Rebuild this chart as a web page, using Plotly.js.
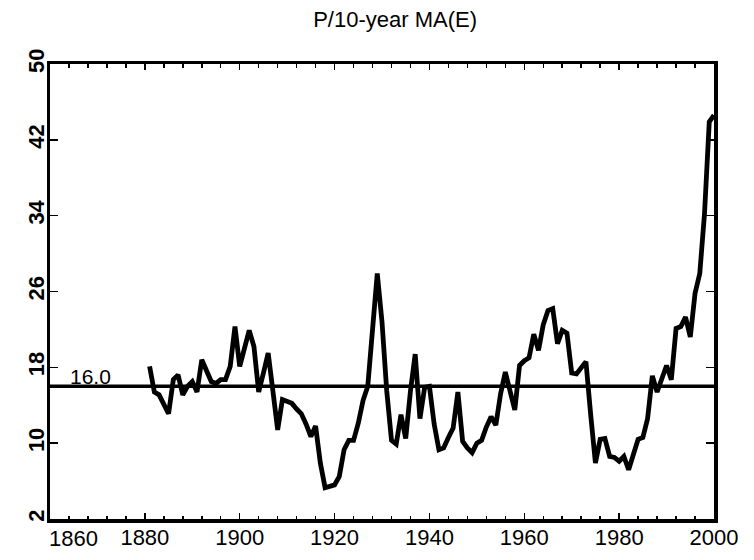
<!DOCTYPE html>
<html>
<head>
<meta charset="utf-8">
<script src="https://cdn.plot.ly/plotly-3.0.1.min.js"></script>
<style>html,body{margin:0;padding:0;background:#fff;}#chart{width:754px;height:560px;}</style>
</head>
<body>
<div id="chart"></div>
<script>
// Data
const startYear = 1881;
const peValues = [
  18.1, 15.4, 15.1, 14.2, 13.1, 16.7, 17.2, 15.1, 16.0, 16.5,   // 1881-1890
  15.4, 18.8, 17.7, 16.5, 16.3, 16.7, 16.7, 18.1, 22.3, 18.1,   // 1891-1900
  20.0, 21.9, 20.2, 15.4, 17.4, 19.5, 15.5, 11.4, 14.6, 14.4,   // 1901-1910
  14.2, 13.6, 13.1, 12.0, 10.7, 11.8, 7.9, 5.3, 5.4, 5.6,       // 1911-1920
  6.5, 9.3, 10.3, 10.3, 12.1, 14.5, 16.0, 22.0, 27.9, 22.8,     // 1921-1930
  15.5, 10.3, 9.9, 13.0, 10.5, 15.5, 19.4, 12.6, 15.9, 16.0,    // 1931-1940
  12.0, 9.3, 9.5, 10.6, 11.6, 15.4, 10.2, 9.5, 9.0, 10.0,       // 1941-1950
  10.3, 11.7, 12.8, 11.9, 15.2, 17.5, 15.6, 13.5, 18.2, 18.7,   // 1951-1960
  19.0, 21.5, 19.8, 22.5, 24.0, 24.2, 20.5, 21.9, 21.6, 17.4,   // 1961-1970
  17.3, 17.9, 18.6, 13.0, 7.9, 10.4, 10.5, 8.6, 8.5, 8.1,       // 1971-1980
  8.6, 7.2, 8.8, 10.4, 10.6, 12.6, 17.1, 15.4, 16.8, 18.2,      // 1981-1990
  16.7, 22.1, 22.3, 23.3, 21.2, 25.8, 27.9, 34.2, 43.9, 44.6    // 1991-2000
];
const years = peValues.map((_, i) => startYear + i);
const meanValue = 16.0;
const meanLabel = "16.0";
const xTickVals = [1860, 1880, 1900, 1920, 1940, 1960, 1980, 2000];
const xTickText = ["", "1880", "1900", "1920", "1940", "1960", "1980", "2000"];
const firstXLabel = "1860";
const yTickVals = [2, 10, 18, 26, 34, 42, 50];
const titleText = "P/10-year MA(E)";

const FONT = "Liberation Sans, Arial, sans-serif";

const traces = [
  {
    x: [1860, 2000], y: [meanValue, meanValue],
    mode: "lines", line: {color: "#000", width: 3.5},
    hoverinfo: "skip", showlegend: false
  },
  {
    x: years, y: peValues,
    mode: "lines", line: {color: "#000", width: 4.8, shape: "linear"},
    showlegend: false, cliponaxis: false
  }
];

const layout = {
  width: 754, height: 560,
  margin: {l: 50, r: 40, t: 64, b: 41, pad: 0},
  paper_bgcolor: "#fff", plot_bgcolor: "#fff",
  showlegend: false,
  title: {
    text: titleText, x: 0.524, xanchor: "center", y: 0.965, yanchor: "middle",
    font: {family: FONT, size: 22, color: "#000"}
  },
  xaxis: {
    range: [1860, 2000], showgrid: false, zeroline: false,
    showline: true, linecolor: "#000", linewidth: 3.5, mirror: "ticks",
    tickmode: "array", tickvals: xTickVals, ticktext: xTickText,
    ticks: "inside", ticklen: 6, tickwidth: 1.5, tickcolor: "#000",
    minor: {dtick: 4, tick0: 1860, ticks: "inside", ticklen: 3.5, tickwidth: 1.5, tickcolor: "#000"},
    tickfont: {family: FONT, size: 22, color: "#000"},
    ticklabelstandoff: -4
  },
  yaxis: {
    range: [2, 50], showgrid: false, zeroline: false,
    showline: true, linecolor: "#000", linewidth: 3.5, mirror: "ticks",
    tickmode: "array", tickvals: yTickVals,
    ticks: "inside", ticklen: 8, tickwidth: 1.5, tickcolor: "#000",
    tickangle: -90,
    tickfont: {family: FONT, size: 22, color: "#000", weight: "bold"},
    ticklabelstandoff: -6
  },
  annotations: [
    {
      x: 1860, y: 0, xref: "x", yref: "paper", xanchor: "left", yanchor: "top",
      text: firstXLabel, showarrow: false, yshift: -5, xshift: -3,
      font: {family: FONT, size: 22, color: "#000"}
    },
    {
      x: 1860, y: meanValue, xref: "x", yref: "y", xanchor: "left", yanchor: "bottom",
      text: meanLabel, showarrow: false, xshift: 18, yshift: -4,
      font: {family: FONT, size: 21, color: "#000"}
    }
  ]
};

Plotly.newPlot("chart", traces, layout, {displayModeBar: false, staticPlot: true});
</script>
</body>
</html>
